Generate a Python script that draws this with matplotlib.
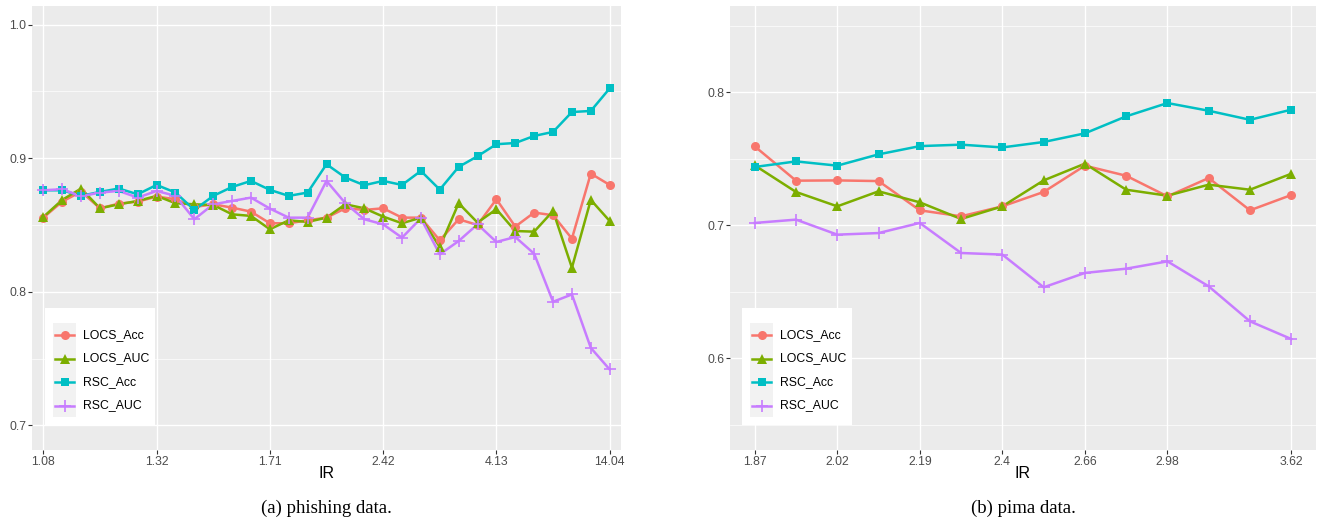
import matplotlib.pyplot as plt
from matplotlib.patches import Rectangle
from matplotlib.lines import Line2D

plt.rcParams['font.family'] = ['Liberation Sans', 'DejaVu Sans']

W, H = 1321, 525

series = ['LOCS_Acc', 'LOCS_AUC', 'RSC_Acc', 'RSC_AUC']
colors = ['#F8766D', '#7CAE00', '#00BFC4', '#C77CFF']
markers = ['o', '^', 's', '+']
msizes = [6.5, 7.5, 6.0, 9.0]

# phishing data: 31 IR levels, labelled every 6th
phish_tick_idx = [0, 6, 12, 18, 24, 30]
phish_tick_lab = ['1.08', '1.32', '1.71', '2.42', '4.13', '14.04']
phish_locs_acc = [0.8555, 0.8675, 0.8750, 0.8625, 0.8660, 0.8675, 0.8713, 0.8693,
                  0.8635, 0.8655, 0.8630, 0.8600, 0.8513, 0.8513, 0.8535, 0.8555,
                  0.8625, 0.8613, 0.8625, 0.8555, 0.8555, 0.8385, 0.8543, 0.8500,
                  0.8693, 0.8488, 0.8593, 0.8573, 0.8398, 0.8885, 0.8800]
phish_locs_auc = [0.8560, 0.8688, 0.8773, 0.8625, 0.8655, 0.8680, 0.8718, 0.8663,
                  0.8655, 0.8650, 0.8580, 0.8568, 0.8468, 0.8535, 0.8523, 0.8555,
                  0.8655, 0.8625, 0.8563, 0.8513, 0.8555, 0.8335, 0.8663, 0.8518,
                  0.8618, 0.8455, 0.8450, 0.8605, 0.8180, 0.8688, 0.8530]
phish_rsc_acc = [0.8760, 0.8760, 0.8718, 0.8748, 0.8773, 0.8730, 0.8800, 0.8743,
                 0.8613, 0.8718, 0.8785, 0.8830, 0.8763, 0.8718, 0.8743, 0.8955,
                 0.8855, 0.8798, 0.8830, 0.8800, 0.8905, 0.8765, 0.8935, 0.9015,
                 0.9105, 0.9114, 0.9167, 0.9197, 0.9346, 0.9354, 0.9523]
phish_rsc_auc = [0.8760, 0.8768, 0.8715, 0.8743, 0.8755, 0.8705, 0.8755, 0.8718,
                 0.8543, 0.8655, 0.8680, 0.8705, 0.8623, 0.8555, 0.8555, 0.8830,
                 0.8663, 0.8543, 0.8505, 0.8405, 0.8550, 0.8280, 0.8380, 0.8505,
                 0.8373, 0.8410, 0.8285, 0.7925, 0.7980, 0.7580, 0.7418]

# pima data: 14 IR levels
pima_tick_idx = [0, 2, 4, 6, 8, 10, 13]
pima_tick_lab = ['1.87', '2.02', '2.19', '2.4', '2.66', '2.98', '3.62']
pima_locs_acc = [0.7594, 0.7336, 0.7338, 0.7333, 0.7113, 0.7068, 0.7143,
                 0.7251, 0.7449, 0.7373, 0.7218, 0.7356, 0.7113, 0.7228]
pima_locs_auc = [0.7451, 0.7251, 0.7143, 0.7256, 0.7173, 0.7048, 0.7143,
                 0.7338, 0.7464, 0.7268, 0.7223, 0.7306, 0.7268, 0.7388]
pima_rsc_acc = [0.7439, 0.7481, 0.7449, 0.7534, 0.7596, 0.7607, 0.7586,
                0.7627, 0.7692, 0.7820, 0.7920, 0.7862, 0.7794, 0.7870]
pima_rsc_auc = [0.7018, 0.7043, 0.6930, 0.6942, 0.7018, 0.6792, 0.6780,
                0.6534, 0.6642, 0.6674, 0.6729, 0.6541, 0.6278, 0.6145]


def px_box(x0, y0, x1, y1):
    return [x0 / W, 1 - y1 / H, (x1 - x0) / W, (y1 - y0) / H]


def gg_panel(ax, data, tick_idx, tick_lab, ylim, yticks, yminor):
    ax.set_facecolor('#EBEBEB')
    for s in ax.spines.values():
        s.set_visible(False)
    n = len(data[0])
    ax.set_xlim(-0.6, n - 1 + 0.6)
    ax.set_ylim(*ylim)
    ax.set_xticks(tick_idx)
    ax.set_xticklabels(tick_lab)
    ax.set_yticks(yticks)
    ax.set_yticklabels(['%.1f' % v for v in yticks])
    ax.set_yticks(yminor, minor=True)
    ax.grid(True, which='major', color='white', lw=1.0)
    ax.grid(True, which='minor', axis='y', color='white', lw=0.5)
    ax.set_axisbelow(True)
    ax.tick_params(which='major', length=2.6, width=0.8, color='#333333',
                   labelcolor='#4D4D4D', labelsize=8.8, pad=1.5)
    ax.tick_params(which='minor', length=0)
    ax.set_xlabel('IR', fontsize=11.5, color='black', labelpad=-1)
    x = list(range(n))
    for vals, c in zip(data, colors):
        ax.plot(x, vals, color=c, lw=1.8, zorder=2)
    for vals, c, m, ms in zip(data, colors, markers, msizes):
        ax.plot(x, vals, ls='none', marker=m, color=c, ms=ms,
                mew=1.2 if m == '+' else 0, zorder=3)


def gg_legend(fig, x0, y0):
    # white box, grey key column, then the four keys
    fig.add_artist(Rectangle((x0 / W, 1 - (y0 + 117) / H), 110 / W, 117 / H,
                             transform=fig.transFigure, facecolor='white',
                             edgecolor='none', zorder=4))
    fig.add_artist(Rectangle(((x0 + 8) / W, 1 - (y0 + 109) / H), 23 / W, 94 / H,
                             transform=fig.transFigure, facecolor='#F2F2F2',
                             edgecolor='none', zorder=4.1))
    for i, (name, c, m, ms) in enumerate(zip(series, colors, markers, msizes)):
        yc = 1 - (y0 + 27 + 23.5 * i) / H
        fig.add_artist(Line2D([(x0 + 10) / W, (x0 + 29) / W], [yc, yc],
                              transform=fig.transFigure, color=c, lw=1.8, zorder=4.2))
        fig.add_artist(Line2D([(x0 + 19.5) / W], [yc], transform=fig.transFigure,
                              ls='none', marker=m, color=c, ms=ms,
                              mew=1.2 if m == '+' else 0, zorder=4.3))
        fig.text((x0 + 38) / W, yc, name, fontsize=8.8, color='black',
                 va='center', ha='left', zorder=4.4)


fig = plt.figure(figsize=(W / 100, H / 100), dpi=100)

ax1 = fig.add_axes(px_box(32, 6, 621, 450))
gg_panel(ax1, [phish_locs_acc, phish_locs_auc, phish_rsc_acc, phish_rsc_auc],
         phish_tick_idx, phish_tick_lab, (0.6815, 1.0140),
         [0.7, 0.8, 0.9, 1.0], [0.75, 0.85, 0.95])

ax2 = fig.add_axes(px_box(730, 6, 1316, 450))
gg_panel(ax2, [pima_locs_acc, pima_locs_auc, pima_rsc_acc, pima_rsc_auc],
         pima_tick_idx, pima_tick_lab, (0.531, 0.865),
         [0.6, 0.7, 0.8], [0.55, 0.65, 0.75, 0.85])

gg_legend(fig, 45, 308)
gg_legend(fig, 742, 308)

fig.text(326 / W, 1 - 508 / H, '(a) phishing data.', fontsize=13.5,
         family='Liberation Serif', ha='center', va='center')
fig.text(1023 / W, 1 - 508 / H, '(b) pima data.', fontsize=13.5,
         family='Liberation Serif', ha='center', va='center')

fig.savefig('out.png', dpi=100)
